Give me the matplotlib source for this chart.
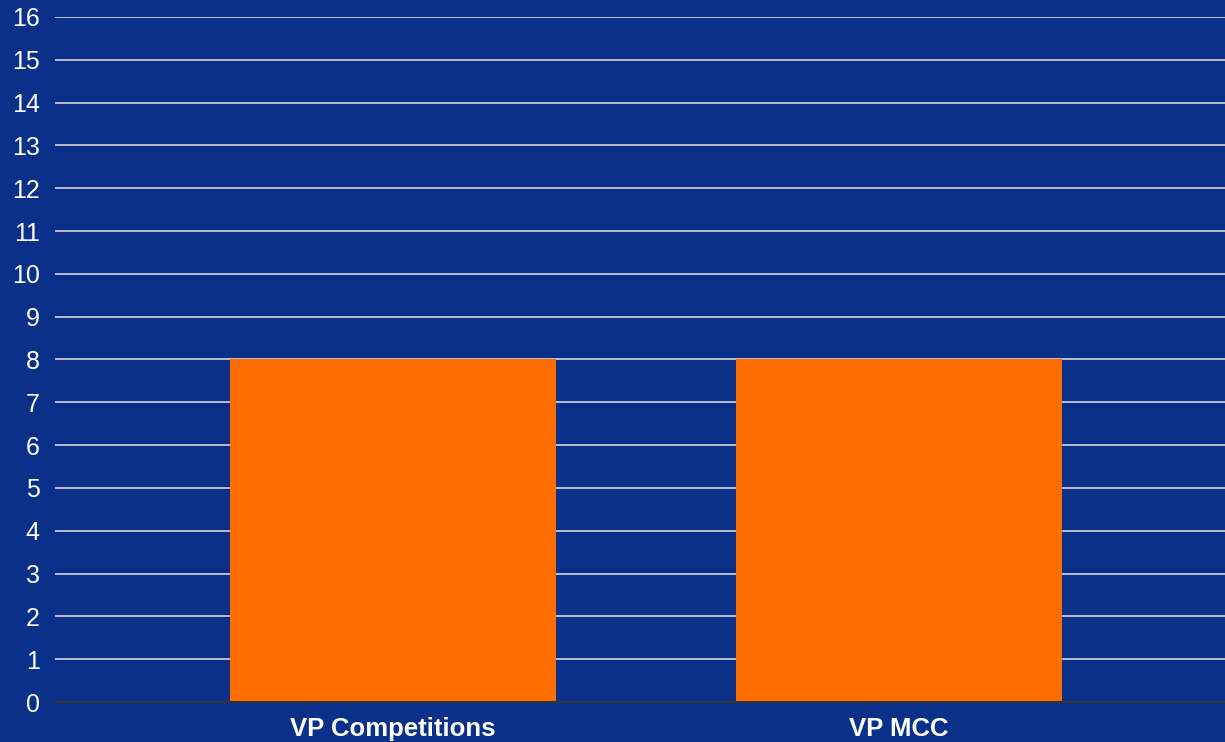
import matplotlib.pyplot as plt

categories = ['VP Competitions', 'VP MCC']
values = [8, 8]
yticks = list(range(0, 17))

bg = '#0B308A'
bar_color = '#FF6D00'

plt.rcParams['font.family'] = ['Liberation Sans', 'DejaVu Sans']

fig = plt.figure(figsize=(12.25, 7.42), dpi=100, facecolor=bg)
ax = fig.add_axes([55 / 1225, 40 / 742, 1170 / 1225, 685 / 742], facecolor=bg)

x = range(len(categories))
ax.bar(x, values, width=0.645, color=bar_color, zorder=3)

ax.set_ylim(0, 16)
ax.set_xlim(-0.669, 1.646)
ax.set_yticks(yticks)
ax.set_xticks(list(x))
ax.set_xticklabels(categories, fontsize=18.5, fontweight='bold', color='white')
ax.tick_params(axis='y', colors='white', labelsize=18, length=0, pad=11)
ax.tick_params(axis='x', length=0, pad=11)

ax.grid(axis='y', color='#D8D8D8', linewidth=1.2, zorder=1)
for s in ['top', 'right', 'left']:
    ax.spines[s].set_visible(False)
ax.spines['bottom'].set_color('#333333')
ax.spines['bottom'].set_linewidth(1.5)
ax.spines['bottom'].set_zorder(4)

fig.savefig('out.png', dpi=100, facecolor=bg)
